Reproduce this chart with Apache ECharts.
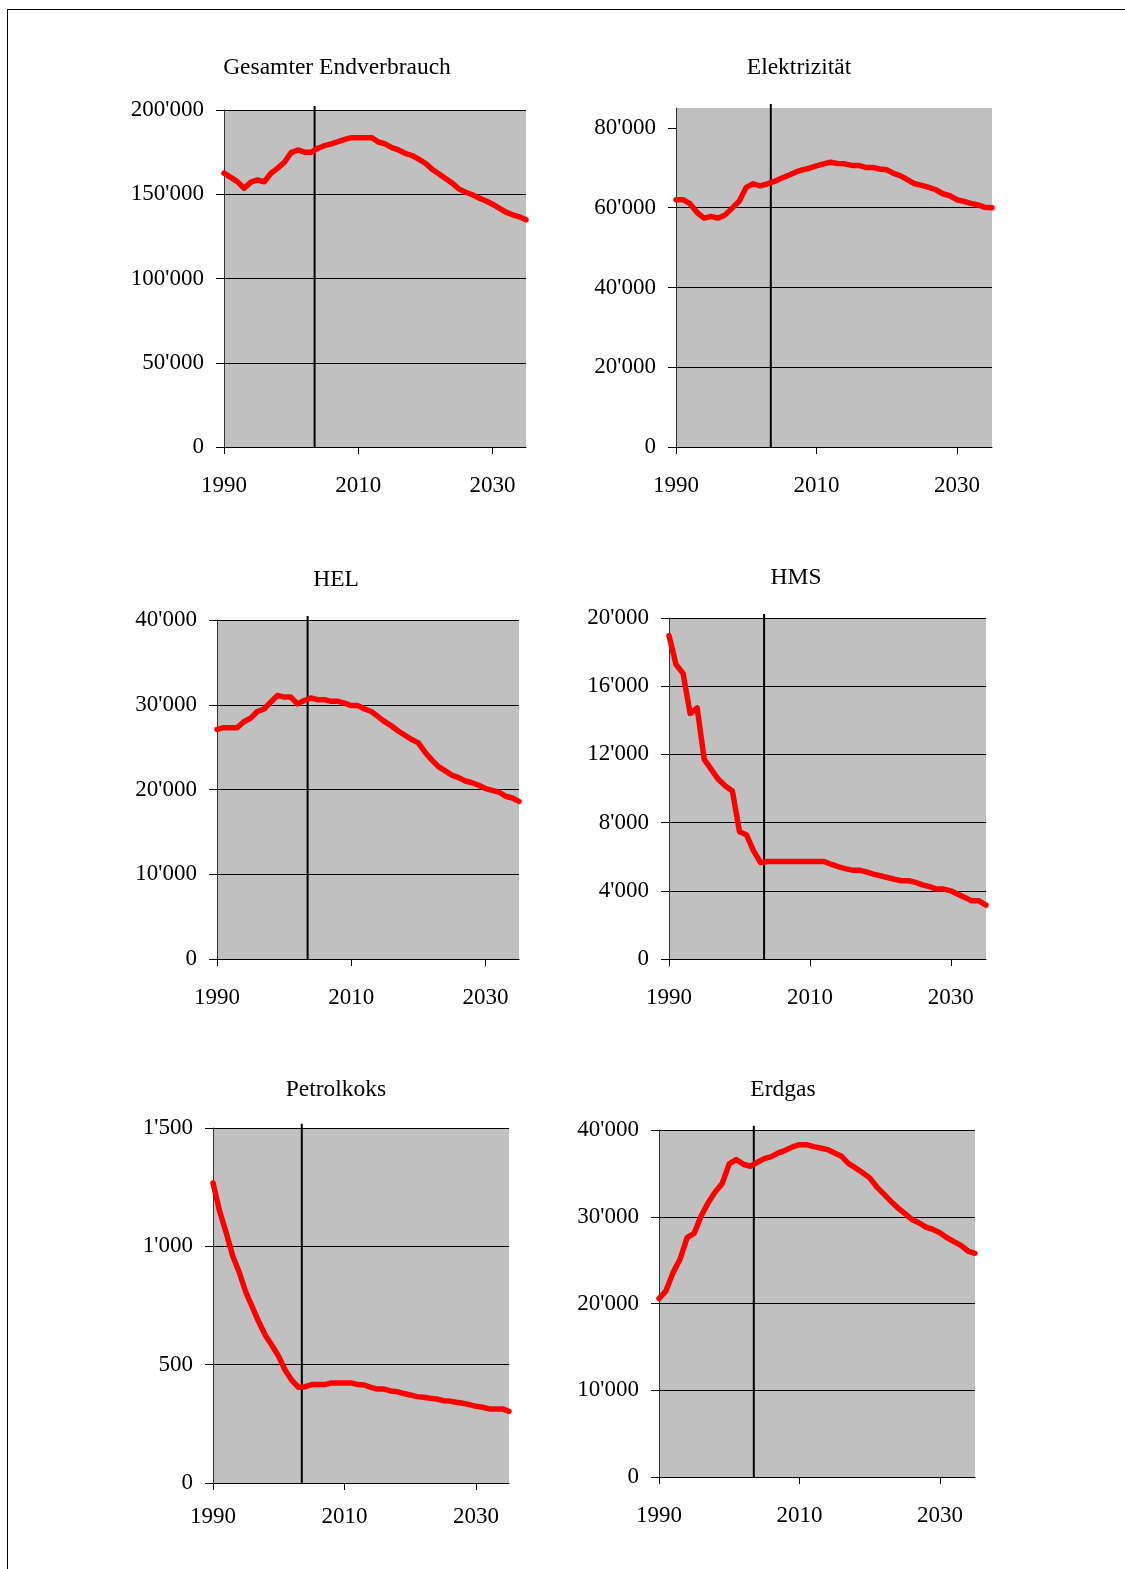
<!DOCTYPE html>
<html>
<head>
<meta charset="utf-8">
<script src="https://cdn.jsdelivr.net/npm/echarts@6/dist/echarts.min.js"></script>
<style>
  html, body { margin: 0; padding: 0; background: #fff; }
  #chart { position: absolute; left: 0; top: 0; width: 1125px; height: 1569px; }
  #frame { position: absolute; left: 7px; top: 9px; right: 0; bottom: 0;
           border-top: 1px solid #000; border-left: 1px solid #000; pointer-events: none; }
</style>
</head>
<body>
<div id="frame"></div>
<div id="chart"></div>
<script>
// Jahre 1990–2035
const years = [1990, 1991, 1992, 1993, 1994, 1995, 1996, 1997, 1998, 1999,
               2000, 2001, 2002, 2003, 2004, 2005, 2006, 2007, 2008, 2009,
               2010, 2011, 2012, 2013, 2014, 2015, 2016, 2017, 2018, 2019,
               2020, 2021, 2022, 2023, 2024, 2025, 2026, 2027, 2028, 2029,
               2030, 2031, 2032, 2033, 2034, 2035];

const xTickYears = [1990, 2010, 2030];
const referenceYear = 2003.5;   // Trennlinie Ist / Perspektive

const gesamt = [162500, 160000, 157500, 153600, 157200, 158500, 157400, 162500, 165500, 169000,
                174700, 176300, 175000, 175000, 177300, 178900, 179900, 181200, 182600, 183600,
                183600, 183600, 183600, 181000, 179900, 177700, 176300, 174300, 173000, 170800,
                168400, 164900, 162100, 159300, 156600, 153200, 151200, 149700, 147700, 146100,
                144100, 141800, 139400, 137800, 136600, 134800];

const elektrizitaet = [62000, 62000, 61000, 58800, 57400, 57800, 57400, 58200, 59900, 61600,
                       65100, 66000, 65500, 66000, 66600, 67400, 68100, 68900, 69500, 69900,
                       70500, 71000, 71400, 71100, 71000, 70600, 70600, 70100, 70100, 69700,
                       69500, 68600, 68000, 67000, 66000, 65600, 65100, 64500, 63500, 63000,
                       62000, 61600, 61100, 60700, 60100, 60000];

const hel = [27100, 27300, 27300, 27300, 28000, 28400, 29200, 29500, 30300, 31100,
             30900, 30900, 30100, 30500, 30800, 30600, 30600, 30400, 30400, 30200,
             29900, 29900, 29500, 29200, 28600, 28000, 27500, 26900, 26400, 25900,
             25500, 24400, 23500, 22700, 22200, 21700, 21400, 21000, 20800, 20500,
             20100, 19900, 19700, 19200, 19000, 18600];

const hms = [18970, 17270, 16750, 14400, 14730, 11710, 11120, 10540, 10150, 9850,
             7470, 7280, 6340, 5660, 5720, 5720, 5720, 5720, 5720, 5720,
             5720, 5720, 5720, 5560, 5420, 5300, 5210, 5210, 5110, 4980,
             4880, 4780, 4680, 4590, 4590, 4490, 4350, 4240, 4100, 4100,
             4000, 3800, 3610, 3410, 3410, 3160];

const petrolkoks = [1268, 1149, 1058, 959, 889, 805, 742, 678, 622, 580,
                    534, 475, 433, 404, 407, 416, 416, 416, 423, 423,
                    423, 423, 416, 414, 404, 397, 397, 389, 386, 378,
                    372, 365, 362, 358, 355, 348, 346, 341, 337, 331,
                    324, 320, 313, 313, 313, 303];

const erdgas = [20570, 21460, 23560, 25100, 27590, 28080, 30080, 31610, 32840, 33830,
                36090, 36590, 36050, 35820, 36280, 36700, 36930, 37360, 37660, 38050,
                38310, 38310, 38080, 37930, 37740, 37360, 36970, 36130, 35630, 35060,
                34480, 33450, 32640, 31800, 31030, 30380, 29690, 29310, 28810, 28540,
                28160, 27590, 27130, 26700, 26050, 25790];

const titles = ['Gesamter Endverbrauch', 'Elektrizität', 'HEL', 'HMS', 'Petrolkoks', 'Erdgas'];
const seriesValues = [gesamt, elektrizitaet, hel, hms, petrolkoks, erdgas];
const yMax = [200000, 85000, 40000, 20000, 1500, 40000];
const yStep = [50000, 20000, 10000, 4000, 500, 10000];
const yTicks = [
  [0, 50000, 100000, 150000, 200000],
  [0, 20000, 40000, 60000, 80000],
  [0, 10000, 20000, 30000, 40000],
  [0, 4000, 8000, 12000, 16000, 20000],
  [0, 500, 1000, 1500],
  [0, 10000, 20000, 30000, 40000]
];

// Layout of the six panels (plot rectangles, title anchors, year-label offsets)
const layout = [
  { left: 224, top: 110, width: 302, height: 337, tx: 337, ty: 68, xm: 27 },
  { left: 676, top: 108, width: 316, height: 339, tx: 799, ty: 68, xm: 27 },
  { left: 217, top: 620, width: 302, height: 339, tx: 336, ty: 580, xm: 27 },
  { left: 669, top: 618, width: 317, height: 341, tx: 796, ty: 578, xm: 27 },
  { left: 213, top: 1128, width: 296, height: 355, tx: 336, ty: 1090, xm: 22 },
  { left: 659, top: 1130, width: 316, height: 347, tx: 783, ty: 1090, xm: 27 }
];

const FONT = "'Liberation Serif', 'Times New Roman', serif";

function swissFormat(v) {
  return String(v).replace(/\B(?=(\d{3})+(?!\d))/g, "'");
}

function yearFormat(v) {
  return String(v);
}

const grids = [], xAxes = [], yAxes = [], series = [], graphics = [];

layout.forEach(function (L, i) {
  grids.push({
    left: L.left, top: L.top, width: L.width, height: L.height,
    show: true, backgroundColor: '#c0c0c0', borderWidth: 0
  });
  xAxes.push({
    type: 'value', gridIndex: i, min: 1990, max: 2035,
    axisLine: { show: true, onZero: false, lineStyle: { color: '#000', width: 1 } },
    axisTick: { show: true, inside: false, length: 7, customValues: xTickYears,
                lineStyle: { color: '#000', width: 1 } },
    axisLabel: { show: true, customValues: xTickYears, margin: L.xm,
                 fontFamily: FONT, fontSize: 23, color: '#000',
                 formatter: yearFormat },
    splitLine: { show: false }
  });
  yAxes.push({
    type: 'value', gridIndex: i, min: 0, max: yMax[i], interval: yStep[i],
    axisLine: { show: true, lineStyle: { color: '#333', width: 1 } },
    axisTick: { show: true, inside: false, length: 8, customValues: yTicks[i],
                lineStyle: { color: '#000', width: 1 } },
    axisLabel: { show: true, customValues: yTicks[i], margin: 20,
                 fontFamily: FONT, fontSize: 23, color: '#000',
                 formatter: swissFormat },
    splitLine: { show: true, showMinLine: false,
                 showMaxLine: yMax[i] === yTicks[i][yTicks[i].length - 1],
                 lineStyle: { color: '#000', width: 1 } }
  });
  // vertical separator line
  series.push({
    type: 'line', xAxisIndex: i, yAxisIndex: i,
    data: [[referenceYear, 0], [referenceYear, yMax[i] * 1.012]],
    symbol: 'none', clip: false, silent: true, z: 3,
    lineStyle: { color: '#000', width: 2 }
  });
  // consumption curve
  series.push({
    type: 'line', xAxisIndex: i, yAxisIndex: i, name: titles[i],
    data: years.map(function (y, k) { return [y, seriesValues[i][k]]; }),
    symbol: 'none', clip: false, z: 4,
    lineStyle: { color: '#ff0000', width: 5.5, cap: 'round', join: 'round' }
  });
  graphics.push({
    type: 'text', x: L.tx, y: L.ty, silent: true,
    style: { text: titles[i], fontFamily: FONT, fontSize: 23.5, fill: '#000',
             align: 'center', verticalAlign: 'middle' }
  });
});

const chart = echarts.init(document.getElementById('chart'), null, { renderer: 'canvas' });
chart.setOption({
  animation: false,
  grid: grids,
  xAxis: xAxes,
  yAxis: yAxes,
  series: series,
  graphic: graphics
});
</script>
</body>
</html>
